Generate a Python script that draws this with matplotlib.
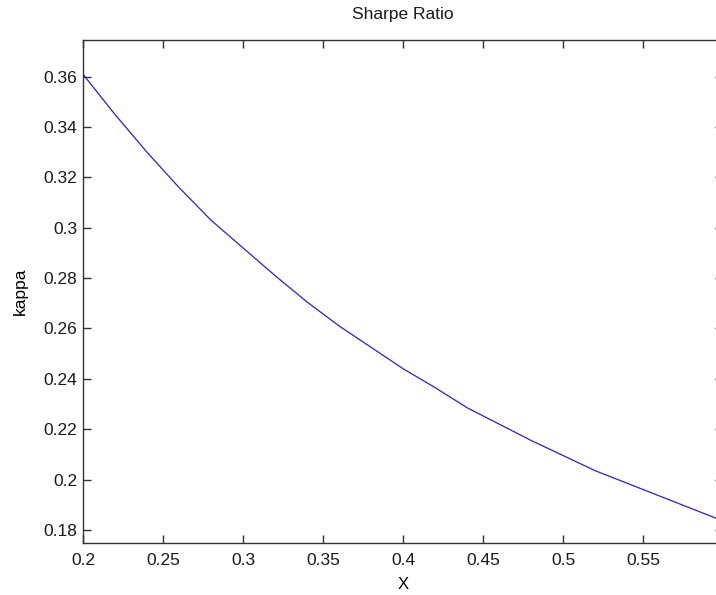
import matplotlib
matplotlib.use("Agg")

import matplotlib.pyplot as plt

plt.rcParams.update({
    "font.family": ["Liberation Sans", "DejaVu Sans"],
    "font.size": 12,
    "text.color": "#1a1a1a",
    "axes.edgecolor": "#333333",
    "xtick.color": "#333333",
    "ytick.color": "#333333",
    "xtick.labelcolor": "#1a1a1a",
    "ytick.labelcolor": "#1a1a1a",
})

# kappa as a function of X
x_vals = [0.20, 0.22, 0.24, 0.26, 0.28, 0.30, 0.32, 0.34, 0.36, 0.38, 0.40,
          0.42, 0.44, 0.46, 0.48, 0.50, 0.52, 0.54, 0.56, 0.58, 0.60]
kappa = [0.361, 0.345, 0.330, 0.316, 0.303, 0.292, 0.281, 0.2705, 0.261,
         0.2525, 0.2440, 0.2365, 0.2285, 0.2220, 0.2155, 0.2095, 0.2035,
         0.1985, 0.1935, 0.1885, 0.1835]

x_ticks = [0.2, 0.25, 0.3, 0.35, 0.4, 0.45, 0.5, 0.55]
y_ticks = [0.18, 0.2, 0.22, 0.24, 0.26, 0.28, 0.3, 0.32, 0.34, 0.36]

fig = plt.figure(figsize=(7.16, 5.95), dpi=100)
# axes run slightly past the right edge of the canvas
ax = fig.add_axes([0.1159, 0.0874, 0.8944, 0.8454])

ax.plot(x_vals, kappa, color="#2626b8", linewidth=0.9)

ax.set_xlim(0.2, 0.6)
ax.set_ylim(0.1748, 0.3746)
ax.set_xticks(x_ticks)
ax.set_xticklabels([f"{t:g}" for t in x_ticks])
ax.set_yticks(y_ticks)
ax.set_yticklabels([f"{t:g}" for t in y_ticks])
ax.tick_params(direction="in", length=6, width=1, top=True, right=True,
               labelsize=12.5)
ax.tick_params(axis="x", pad=7)
ax.tick_params(axis="y", pad=4)
for s in ax.spines.values():
    s.set_linewidth(1)

ax.set_title("Sharpe Ratio", fontsize=12.5, pad=15)
ax.set_xlabel("X", fontsize=12, labelpad=7)
ax.set_ylabel("kappa", fontsize=12.5, labelpad=11)

fig.savefig("out.png", dpi=100)
